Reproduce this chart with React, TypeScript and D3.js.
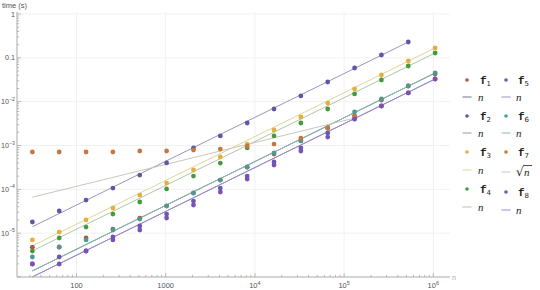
import React from "react";
import * as d3 from "d3";

const nValues = [32, 64, 128, 256, 512, 1024, 2048, 4096, 8192, 16384, 32768, 65536, 131072, 262144, 524288, 1048576];

const seriesNames = ["f1", "f2", "f3", "f4", "f5", "f6", "f7", "f8"];

const f1Times = [4.8e-6, 4.8e-6, 7.8e-6, 1.24e-5, 2.2e-5, 4.2e-5, 8.2e-5, 1.63e-4, 3.2e-4, 6.4e-4, 1.27e-3, 2.5e-3, 4.7e-3, 1.09e-2, 2.28e-2, 4.3e-2];
const f2Times = [1.8e-5, 3.2e-5, 5.7e-5, 1.07e-4, 2.12e-4, 4.0e-4, 8.8e-4, 1.65e-3, 3.26e-3, 6.8e-3, 1.35e-2, 2.81e-2, 5.86e-2, 0.116, 0.23];
const f3Times = [7.0e-6, 1.06e-5, 2.0e-5, 3.75e-5, 7.4e-5, 1.39e-4, 2.76e-4, 5.46e-4, 1.08e-3, 2.26e-3, 4.47e-3, 9.3e-3, 1.95e-2, 4.06e-2, 8.47e-2, 0.168];
const f4Times = [3.9e-6, 7.75e-6, 1.38e-5, 2.73e-5, 5.14e-5, 1.02e-4, 2.01e-4, 3.98e-4, 8.8e-4, 1.65e-3, 3.26e-3, 6.8e-3, 1.5e-2, 3.12e-2, 6.51e-2, 0.129];
const f5Times = [1.98e-6, 2.86e-6, 3.92e-6, 8.2e-6, 1.46e-5, 2.73e-5, 5.41e-5, 1.07e-4, 2.01e-4, 4.2e-4, 8.8e-4, 1.93e-3, 4.0e-3, 7.96e-3, 1.58e-2, 3.29e-2];
const f6Times = [2.86e-6, 4.83e-6, 7.0e-6, 1.18e-5, 2.1e-5, 4.16e-5, 8.24e-5, 1.63e-4, 3.23e-4, 6.74e-4, 1.27e-3, 2.51e-3, 5.81e-3, 1.15e-2, 2.28e-2, 4.51e-2];
const f7Times = [7.1e-4, 7.1e-4, 7.1e-4, 7.1e-4, 7.5e-4, 7.5e-4, 7.9e-4, 8.3e-4, 9.7e-4, 1.08e-3, 1.48e-3, 2.51e-3, 4.7e-3];
const f8Times = [1.98e-6, 1.98e-6, 3.92e-6, 7.0e-6, 1.18e-5, 2.22e-5, 4.39e-5, 8.7e-5, 1.72e-4, 3.59e-4, 7.5e-4, 1.56e-3, 4.0e-3, 7.96e-3, 1.58e-2, 3.29e-2];

const allTimes = [f1Times, f2Times, f3Times, f4Times, f5Times, f6Times, f7Times, f8Times];

// fitted model lines: time = coef * n^power
const fitCoef = [4.3e-8, 4.38e-7, 1.6e-7, 1.23e-7, 3.14e-8, 4.3e-8, 1.17e-5, 3.14e-8];
const fitPower = [1, 1, 1, 1, 1, 1, 0.5, 1];
const fitLabels = ["n", "n", "n", "n", "n", "n", "sqrt", "n"];

const pointColors = ["#B0553A", "#5F56A8", "#E3AE3C", "#459A3E", "#6A58B2", "#4E9A92", "#C7763C", "#7C50B4"];
const lineColors = ["#6E7282", "#9896B6", "#DDD79A", "#AFC7A6", "#9C8FCB", "#86BDB4", "#C9C6BC", "#9A8BC8"];

const xTickValues = [100, 1000, 10000, 100000, 1000000];
const xTickLabels = [["100", ""], ["1000", ""], ["10", "4"], ["10", "5"], ["10", "6"]];
const yTickValues = [1, 0.1, 0.01, 0.001, 1e-4, 1e-5];
const yTickLabels = [["1", ""], ["0.1", ""], ["10", "\u22122"], ["10", "\u22123"], ["10", "\u22124"], ["10", "\u22125"]];

export default function App() {
  const W = 540;
  const H = 290;
  const x = d3.scaleLog().domain([100, 1e6]).range([76.5, 433.3]);
  const y = d3.scaleLog().domain([1e-6, 1]).range([277, 14]);
  const axX0 = 17;
  const axX1 = 450;
  const axYTop = 12;
  const axYBot = 277;

  const xMin = x.invert(axX0);
  const xMax = x.invert(axX1);
  const xMinor: number[] = [];
  for (let d = 10; d <= 1e6; d *= 10) {
    for (let m = 1; m <= 9; m++) {
      const v = d * m;
      if (v >= xMin && v <= xMax) xMinor.push(v);
    }
  }
  const yMaxV = y.invert(axYTop);
  const yMinor: number[] = [];
  for (let d = 1e-6; d <= 1.01; d *= 10) {
    for (let m = 1; m <= 9; m++) {
      const v = d * m;
      if (v >= 1e-6 * 0.999 && v <= yMaxV) yMinor.push(v);
    }
  }
  const isMajor = (v: number) => Math.abs(Math.log10(v) - Math.round(Math.log10(v))) < 1e-6;

  const tickFont = "'Liberation Sans', Arial, sans-serif";
  const tickColor = "#555";

  const legendRows1 = [80, 97, 116, 133, 152, 170, 189, 207];
  const legendRows2 = [80, 97, 116, 133, 152, 172, 192, 210];

  return (
    <svg width={W} height={H} style={{ position: "absolute", left: 0, top: 0, background: "#fff" }}>
      {/* grid */}
      {xTickValues.map((v) => (
        <line key={"gx" + v} x1={x(v)} x2={x(v)} y1={axYTop} y2={axYBot} stroke="#f1f1f1" strokeWidth={1} />
      ))}
      {yTickValues.map((v) => (
        <line key={"gy" + v} x1={axX0} x2={axX1} y1={y(v)} y2={y(v)} stroke="#f1f1f1" strokeWidth={1} />
      ))}

      {/* fit lines */}
      {allTimes.map((ts, si) => {
        const ns = nValues.slice(0, ts.length);
        const n0 = ns[0];
        const n1 = ns[ns.length - 1];
        const f = (n: number) => fitCoef[si] * Math.pow(n, fitPower[si]);
        const path = d3
          .line<number>()
          .x((n) => x(n))
          .y((n) => y(f(n)))([n0, n1]);
        return <path key={"fit" + si} d={path || ""} fill="none" stroke={lineColors[si]} strokeWidth={1} />;
      })}

      {/* points */}
      {allTimes.map((ts, si) =>
        ts.map((t, i) => (
          <circle key={"p" + si + "_" + i} cx={x(nValues[i])} cy={y(t)} r={2.4} fill={pointColors[si]} />
        ))
      )}

      {/* axes */}
      <line x1={axX0} x2={axX1} y1={axYBot} y2={axYBot} stroke="#aaa" strokeWidth={1} />
      <line x1={axX0} x2={axX0} y1={axYTop} y2={axYBot} stroke="#aaa" strokeWidth={1} />
      {xMinor.map((v) => (
        <line key={"xt" + v} x1={x(v)} x2={x(v)} y1={axYBot} y2={axYBot - (isMajor(v) ? 4 : 2.2)} stroke="#aaa" strokeWidth={0.8} />
      ))}
      {yMinor.map((v) => (
        <line key={"yt" + v} x1={axX0} x2={axX0 + (isMajor(v) ? 4 : 2.2)} y1={y(v)} y2={y(v)} stroke="#aaa" strokeWidth={0.8} />
      ))}
      {xTickValues.map((v, i) => (
        <text key={"xl" + v} x={x(v)} y={288} fontSize={7.5} fontFamily={tickFont} fill={tickColor} textAnchor="middle">
          {xTickLabels[i][0]}
          {xTickLabels[i][1] ? (
            <tspan dy={-3.5} fontSize={5.5}>
              {xTickLabels[i][1]}
            </tspan>
          ) : null}
        </text>
      ))}
      {yTickValues.map((v, i) => (
        <text key={"yl" + v} x={15} y={y(v) + 2.6} fontSize={7.2} fontFamily={tickFont} fill={tickColor} textAnchor="end">
          {yTickLabels[i][0]}
          {yTickLabels[i][1] ? (
            <tspan dy={-3.5} fontSize={5.2}>
              {yTickLabels[i][1]}
            </tspan>
          ) : null}
        </text>
      ))}
      <text x={2} y={7.5} fontSize={7.5} fontFamily={tickFont} fill={tickColor}>
        time (s)
      </text>
      <text x={452} y={279.5} fontSize={7} fontFamily={tickFont} fill="#aaa">
        n
      </text>

      {/* legend */}
      {seriesNames.map((name, si) => {
        const col = si < 4 ? 0 : 1;
        const row = si % 4;
        const rows = col === 0 ? legendRows1 : legendRows2;
        const dotX = col === 0 ? 467 : 506;
        const textX = col === 0 ? 480 : 518;
        const yp = rows[row * 2];
        const yl = rows[row * 2 + 1];
        return (
          <g key={"lg" + si}>
            <circle cx={dotX} cy={yp} r={1.8} fill={pointColors[si]} />
            <text x={textX} y={yp + 3.5} fontSize={11} fontWeight="bold" fontFamily="'Liberation Mono', monospace" fill="#222">
              {name[0]}
              <tspan dy={2.5} fontSize={7} fontWeight="normal" fontFamily="'DejaVu Sans', sans-serif">
                {name.slice(1)}
              </tspan>
            </text>
            <line x1={dotX - 4.5} x2={dotX + 4.5} y1={yl} y2={yl} stroke={lineColors[si]} strokeWidth={1} />
            {fitLabels[si] === "sqrt" ? (
              <g>
                <text x={textX - 2} y={yl + 4} fontSize={12} fontFamily="'DejaVu Sans', sans-serif" fill="#222">
                  {"\u221A"}
                </text>
                <line x1={textX + 5} x2={textX + 14} y1={yl - 6.5} y2={yl - 6.5} stroke="#222" strokeWidth={0.8} />
                <text x={textX + 6} y={yl + 3.5} fontSize={11} fontStyle="italic" fontFamily="'Liberation Serif', serif" fill="#222">
                  n
                </text>
              </g>
            ) : (
              <text x={textX - 2} y={yl + 3.5} fontSize={11} fontStyle="italic" fontFamily="'Liberation Serif', serif" fill="#222">
                n
              </text>
            )}
          </g>
        );
      })}
    </svg>
  );
}
